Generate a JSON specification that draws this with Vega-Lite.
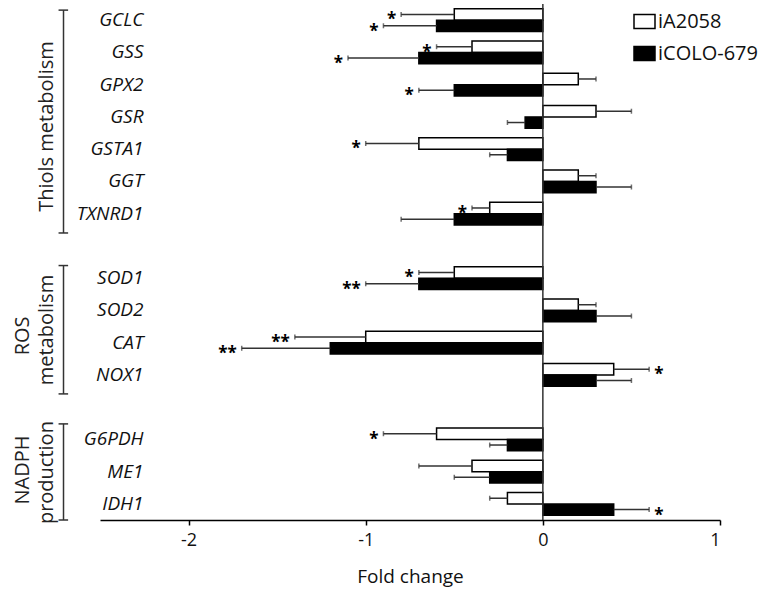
{
  "$schema": "https://vega.github.io/schema/vega-lite/v6.json",
  "width": 620,
  "height": 516,
  "autosize": {"type": "none"},
  "padding": {"left": 100, "top": 4, "right": 41, "bottom": 72},
  "config": {"view": {"stroke": null}, "font": "Open Sans"},
  "datasets": {
    "genes": [
      {"gene": "GCLC", "cell": "iA2058", "value": -0.5, "err": -0.8, "sig": "*"},
      {"gene": "GCLC", "cell": "iCOLO-679", "value": -0.6, "err": -0.9, "sig": "*"},
      {"gene": "GSS", "cell": "iA2058", "value": -0.4, "err": -0.6, "sig": "*"},
      {"gene": "GSS", "cell": "iCOLO-679", "value": -0.7, "err": -1.1, "sig": "*"},
      {"gene": "GPX2", "cell": "iA2058", "value": 0.2, "err": 0.3, "sig": ""},
      {"gene": "GPX2", "cell": "iCOLO-679", "value": -0.5, "err": -0.7, "sig": "*"},
      {"gene": "GSR", "cell": "iA2058", "value": 0.3, "err": 0.5, "sig": ""},
      {"gene": "GSR", "cell": "iCOLO-679", "value": -0.1, "err": -0.2, "sig": ""},
      {"gene": "GSTA1", "cell": "iA2058", "value": -0.7, "err": -1.0, "sig": "*"},
      {"gene": "GSTA1", "cell": "iCOLO-679", "value": -0.2, "err": -0.3, "sig": ""},
      {"gene": "GGT", "cell": "iA2058", "value": 0.2, "err": 0.3, "sig": ""},
      {"gene": "GGT", "cell": "iCOLO-679", "value": 0.3, "err": 0.5, "sig": ""},
      {"gene": "TXNRD1", "cell": "iA2058", "value": -0.3, "err": -0.4, "sig": "*"},
      {"gene": "TXNRD1", "cell": "iCOLO-679", "value": -0.5, "err": -0.8, "sig": ""},
      {"gene": "SOD1", "cell": "iA2058", "value": -0.5, "err": -0.7, "sig": "*"},
      {"gene": "SOD1", "cell": "iCOLO-679", "value": -0.7, "err": -1.0, "sig": "**"},
      {"gene": "SOD2", "cell": "iA2058", "value": 0.2, "err": 0.3, "sig": ""},
      {"gene": "SOD2", "cell": "iCOLO-679", "value": 0.3, "err": 0.5, "sig": ""},
      {"gene": "CAT", "cell": "iA2058", "value": -1.0, "err": -1.4, "sig": "**"},
      {"gene": "CAT", "cell": "iCOLO-679", "value": -1.2, "err": -1.7, "sig": "**"},
      {"gene": "NOX1", "cell": "iA2058", "value": 0.4, "err": 0.6, "sig": "*"},
      {"gene": "NOX1", "cell": "iCOLO-679", "value": 0.3, "err": 0.5, "sig": ""},
      {"gene": "G6PDH", "cell": "iA2058", "value": -0.6, "err": -0.9, "sig": "*"},
      {"gene": "G6PDH", "cell": "iCOLO-679", "value": -0.2, "err": -0.3, "sig": ""},
      {"gene": "ME1", "cell": "iA2058", "value": -0.4, "err": -0.7, "sig": ""},
      {"gene": "ME1", "cell": "iCOLO-679", "value": -0.3, "err": -0.5, "sig": ""},
      {"gene": "IDH1", "cell": "iA2058", "value": -0.2, "err": -0.3, "sig": ""},
      {"gene": "IDH1", "cell": "iCOLO-679", "value": 0.4, "err": 0.6, "sig": "*"}
    ],
    "brackets": [
      {"x1": -2.706, "x2": -2.706, "y1": 0.19, "y2": 7.1},
      {"x1": -2.734, "x2": -2.68, "y1": 0.19, "y2": 0.19},
      {"x1": -2.734, "x2": -2.68, "y1": 7.1, "y2": 7.1},
      {"x1": -2.706, "x2": -2.706, "y1": 8.11, "y2": 12.09},
      {"x1": -2.734, "x2": -2.68, "y1": 8.11, "y2": 8.11},
      {"x1": -2.734, "x2": -2.68, "y1": 12.09, "y2": 12.09},
      {"x1": -2.706, "x2": -2.706, "y1": 13.02, "y2": 16.0},
      {"x1": -2.734, "x2": -2.68, "y1": 13.02, "y2": 13.02},
      {"x1": -2.734, "x2": -2.68, "y1": 16.0, "y2": 16.0},
      {"x1": 0, "x2": 0, "y1": 0, "y2": 16.0}
    ],
    "groups": [
      {"label": "Thiols metabolism", "x": -2.8, "y": 3.8},
      {"label": "ROS", "x": -2.932, "y": 10.29},
      {"label": "metabolism", "x": -2.799, "y": 10.11},
      {"label": "NADPH", "x": -2.932, "y": 14.45},
      {"label": "production", "x": -2.799, "y": 14.53}
    ]
  },
  "layer": [
    {
      "data": {"name": "genes"},
      "encoding": {
        "y": {
          "field": "gene", "type": "nominal",
          "scale": {
            "domain": ["GCLC", "GSS", "GPX2", "GSR", "GSTA1", "GGT", "TXNRD1", " ", "SOD1", "SOD2", "CAT", "NOX1", "  ", "G6PDH", "ME1", "IDH1"],
            "paddingInner": 0.3, "paddingOuter": 0.15
          },
          "axis": {"title": null, "domain": false, "ticks": false, "labelPadding": -43, "labelFontSize": 19, "labelFontStyle": "italic", "labelFont": "Open Sans", "labelColor": "#111111"}
        },
        "yOffset": {"field": "cell", "type": "nominal", "scale": {"domain": ["iA2058", "iCOLO-679"]}}
      },
      "layer": [
        {
          "mark": {"type": "bar", "stroke": "black", "strokeWidth": 1.5},
          "encoding": {
            "x": {
              "field": "value", "type": "quantitative",
              "scale": {"domain": [-2.5, 1], "nice": false},
              "axis": {"values": [-2, -1, 0, 1], "labelExpr": "datum.value < 0 ? '-' + abs(datum.value) : '' + datum.value", "title": "Fold change", "grid": false, "titleFontSize": 19, "titleFontWeight": "normal", "titleColor": "#111111", "titleFont": "Open Sans", "labelFont": "Open Sans", "labelFontSize": 18, "labelColor": "#111111", "domainColor": "black", "domainWidth": 1.5, "tickColor": "black", "tickWidth": 1.5, "tickSize": 5, "labelPadding": 6, "titlePadding": 18}
            },
            "fill": {
              "field": "cell", "type": "nominal",
              "scale": {"domain": ["iA2058", "iCOLO-679"], "range": ["white", "black"]},
              "legend": {"title": null, "orient": "none", "legendX": 533, "legendY": 6, "symbolType": "M-1,-0.67H1V0.67H-1Z", "symbolSize": 441, "symbolStrokeColor": "black", "symbolStrokeWidth": 1.5, "labelFontSize": 20, "labelFont": "Open Sans", "labelColor": "#111111", "labelOffset": 2, "rowPadding": 10}
            }
          }
        },
        {
          "mark": {"type": "rule", "color": "#333333", "strokeWidth": 1.5},
          "encoding": {"x": {"field": "value", "type": "quantitative"}, "x2": {"field": "err"}}
        },
        {
          "mark": {"type": "tick", "color": "#333333", "thickness": 1.5, "size": 5, "orient": "vertical"},
          "encoding": {"x": {"field": "err", "type": "quantitative"}}
        },
        {
          "transform": [{"filter": "datum.sig != '' && datum.err < 0"}],
          "mark": {"type": "text", "align": "right", "baseline": "alphabetic", "dx": -5, "dy": 11, "fontSize": 17, "fontWeight": "bold", "color": "black"},
          "encoding": {"x": {"field": "err", "type": "quantitative"}, "text": {"field": "sig"}}
        },
        {
          "transform": [{"filter": "datum.sig != '' && datum.err > 0"}],
          "mark": {"type": "text", "align": "left", "baseline": "alphabetic", "dx": 5, "dy": 11, "fontSize": 17, "fontWeight": "bold", "color": "black"},
          "encoding": {"x": {"field": "err", "type": "quantitative"}, "text": {"field": "sig"}}
        }
      ]
    },
    {
      "layer": [
        {
          "data": {"name": "brackets"},
          "mark": {"type": "rule", "color": "#333333", "strokeWidth": 1.5},
          "encoding": {
            "x": {"field": "x1", "type": "quantitative", "scale": {"domain": [-2.5, 1], "nice": false}},
            "x2": {"field": "x2"},
            "y": {"field": "y1", "type": "quantitative", "scale": {"domain": [0, 16], "reverse": true, "nice": false, "zero": false}, "axis": null},
            "y2": {"field": "y2"}
          }
        },
        {
          "data": {"name": "groups"},
          "mark": {"type": "text", "angle": 270, "align": "center", "baseline": "middle", "fontSize": 20, "color": "#222222"},
          "encoding": {
            "x": {"field": "x", "type": "quantitative"},
            "y": {"field": "y", "type": "quantitative", "axis": null},
            "text": {"field": "label"}
          }
        }
      ]
    }
  ],
  "resolve": {"scale": {"y": "independent"}}
}
